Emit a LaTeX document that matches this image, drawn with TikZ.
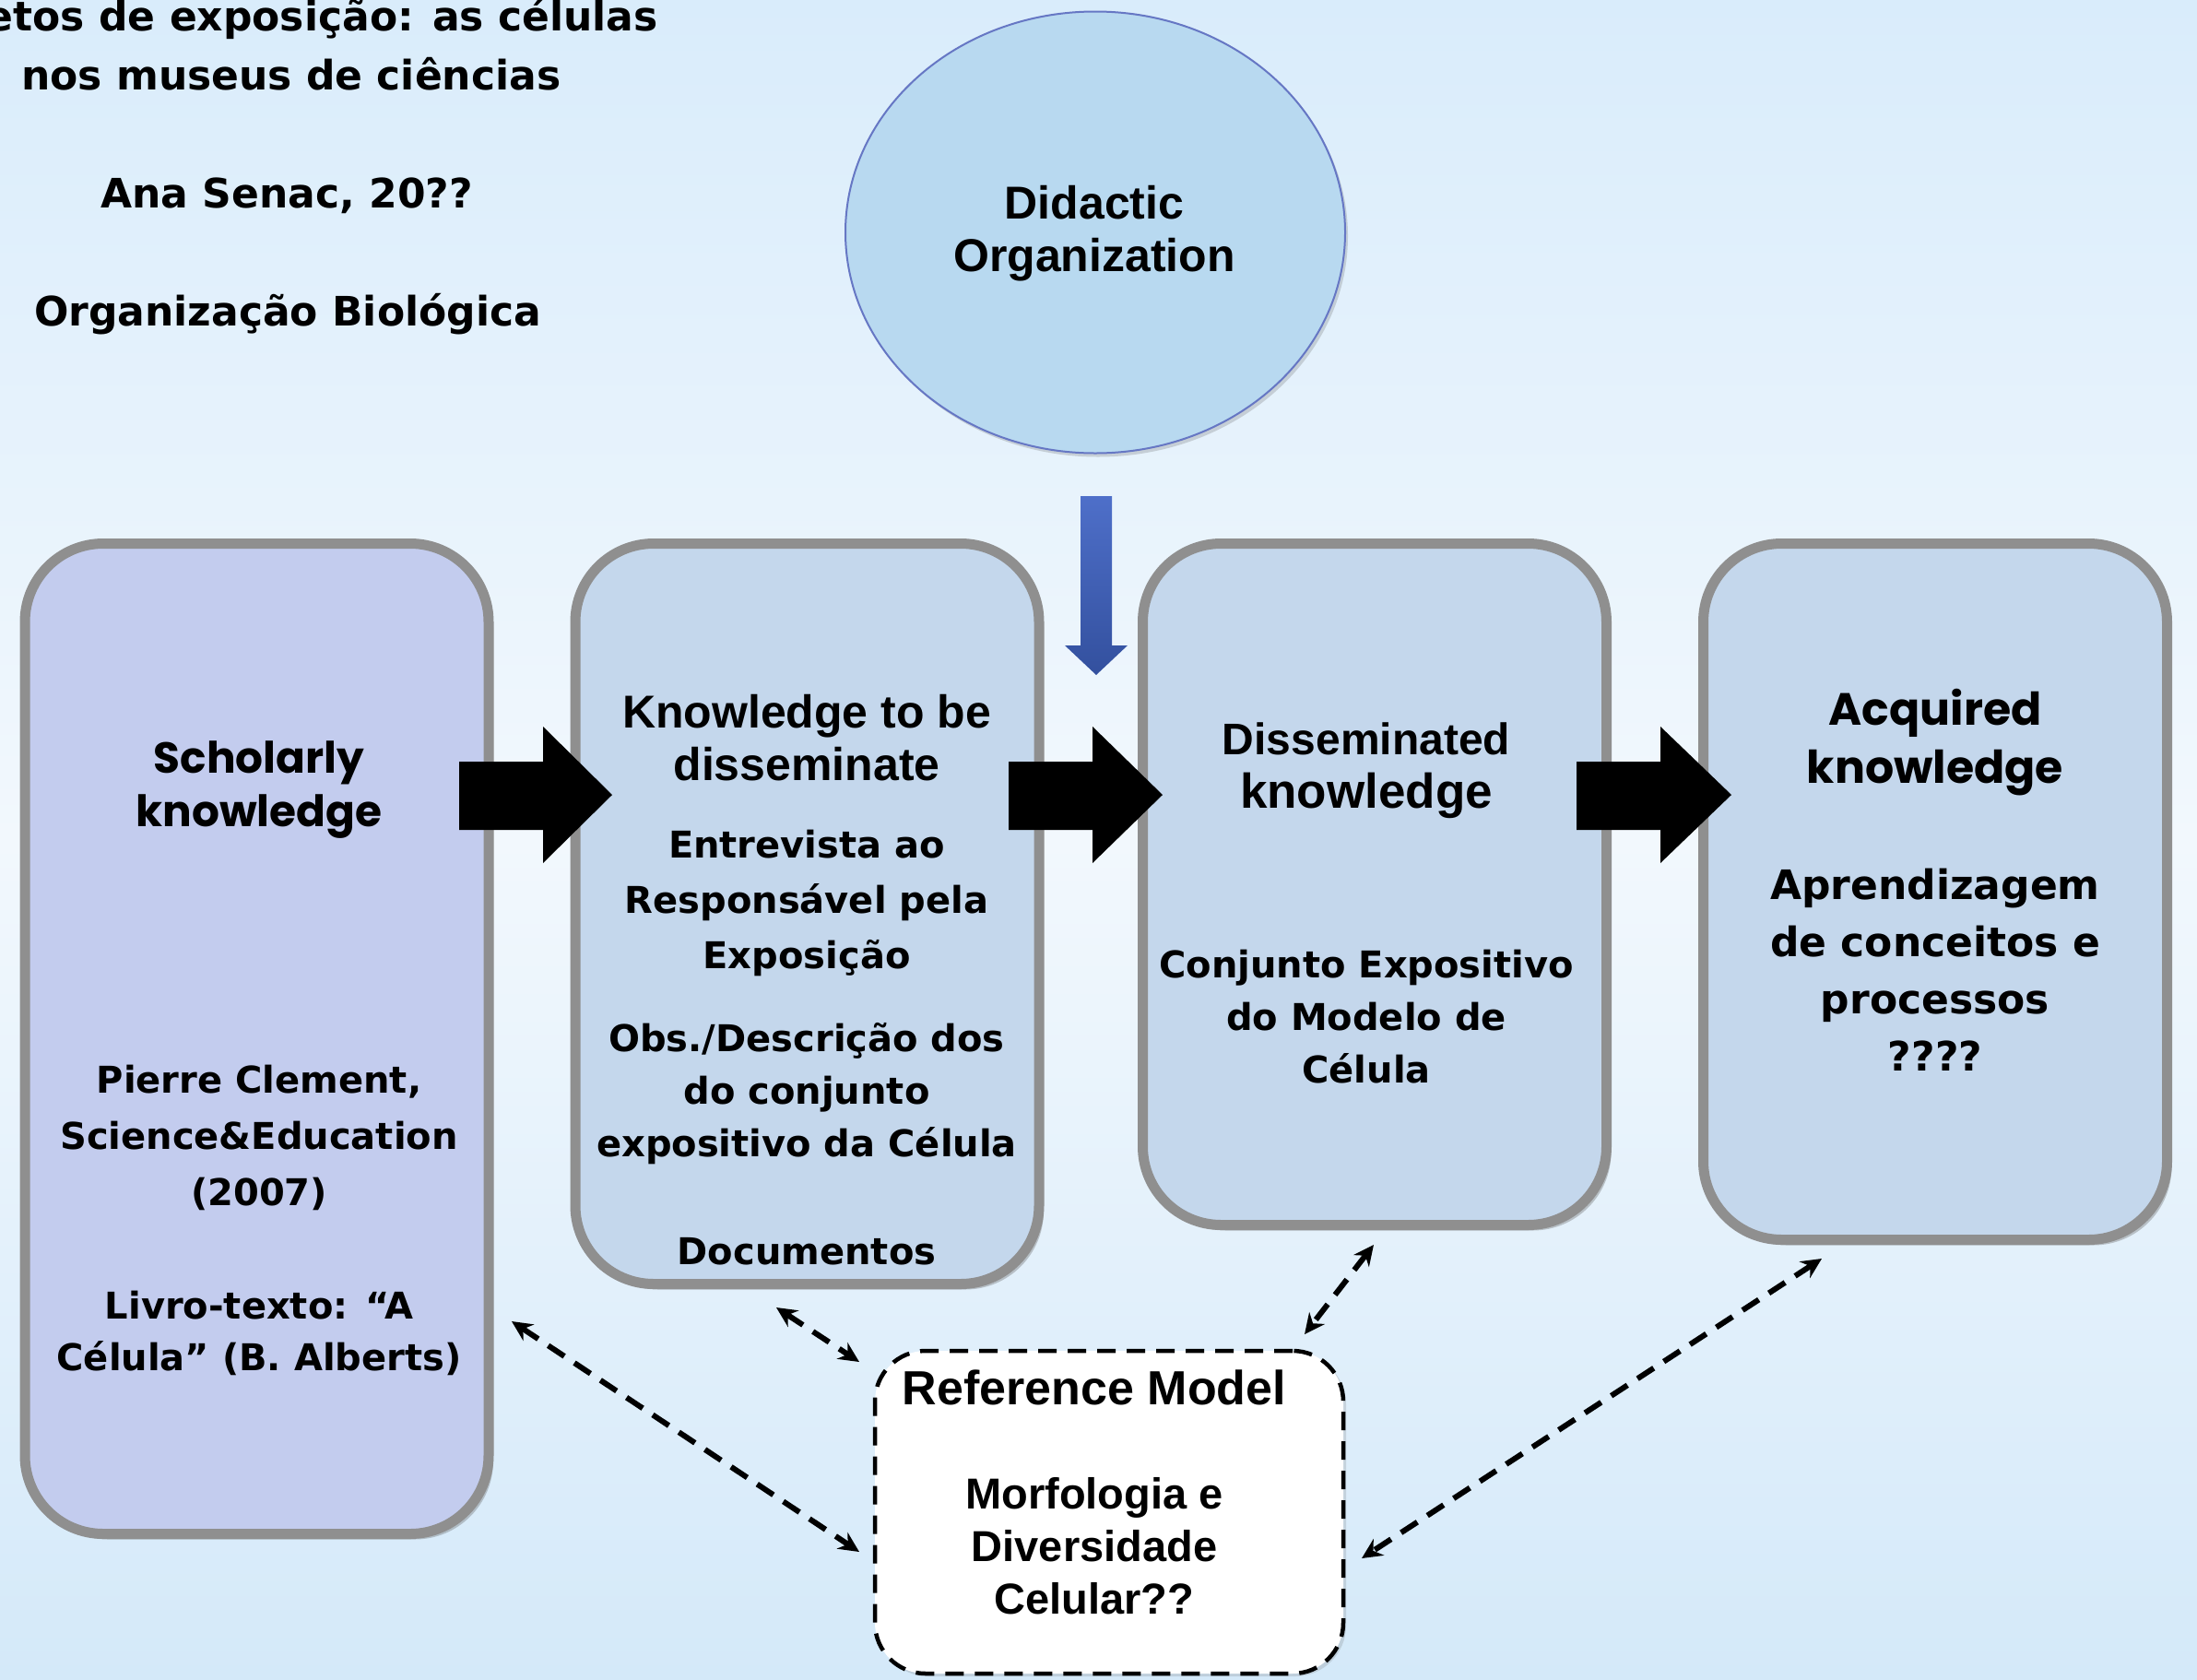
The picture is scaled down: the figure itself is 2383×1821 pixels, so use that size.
\documentclass[tikz,border=0pt]{standalone}
\usepackage{fontspec}
\usetikzlibrary{arrows.meta,shadows,shapes.geometric}
\newfontfamily\comicf{DejaVu Sans}
\newfontfamily\arialf{Liberation Sans}
\newfontfamily\gothicf{Poppins}
\definecolor{bgtop}{HTML}{D9ECFB}
\definecolor{bgmid}{HTML}{F2F8FD}
\definecolor{bgbot}{HTML}{D4E9F9}
\definecolor{boxa}{HTML}{C3CCEE}
\definecolor{boxb}{HTML}{C4D7EC}
\definecolor{boxline}{HTML}{8F8F8F}
\definecolor{ellfill}{HTML}{B8D9F0}
\definecolor{ellline}{HTML}{6677C4}
\definecolor{bluetop}{HTML}{4E6FC9}
\definecolor{bluebot}{HTML}{33509E}
\tikzset{
  stagebox/.style={draw=boxline, line width=11pt, rounded corners=85pt, inner sep=0pt,
    drop shadow={shadow xshift=5pt, shadow yshift=-6pt, opacity=0.35, fill=black!60}},
  comic/.style={font=\comicf\bfseries\fontsize{40}{58}\selectfont, align=center, inner sep=0pt},
  comicbig/.style={font=\comicf\bfseries\fontsize{44}{62}\selectfont, align=center, inner sep=0pt},
  arialt/.style={font=\arialf\bfseries\fontsize{50}{57}\selectfont, align=center, inner sep=0pt},
  gothic/.style={font=\gothicf\bfseries\fontsize{47}{58}\selectfont, align=center, inner sep=0pt},
  titlet/.style={font=\comicf\bfseries\fontsize{44}{58}\selectfont, inner sep=0pt},
  bigarrow/.style={fill=black},
  dasharrow/.style={line width=6pt, dash pattern=on 21pt off 13pt, {Stealth[length=22pt,width=21pt]}-{Stealth[length=22pt,width=21pt]}}
}
\begin{document}
\begin{tikzpicture}[x=1pt,y=-1pt]
\useasboundingbox (0,0) rectangle (2383,1821);
\shade[top color=bgtop, bottom color=bgbot, middle color=bgmid] (0,0) rectangle (2383,1821);

% title texts
\node[titlet, anchor=base east] (t1) at (714,33) {etos de exposição: as células};
\node[titlet, anchor=base west] (t2) at (23,97) {nos museus de ciências};
\node[titlet, anchor=base] (t3) at (311,225) {Ana Senac, 20??};
\node[titlet, anchor=base] (t4) at (312,353) {Organização Biológica};

% didactic organization
\node[ellipse, draw=ellline, line width=2pt, fill=ellfill, minimum width=542pt, minimum height=479pt, inner sep=0pt,
  drop shadow={shadow xshift=3pt, shadow yshift=-4pt, opacity=0.25, fill=black!60}] (ell) at (1188,252) {};
\node[arialt] (ellt) at (1187,253) {Didactic\\Organization};

% blue arrow
\shade[top color=bluetop, bottom color=bluebot] (1172,538) -- (1206,538) -- (1206,700) -- (1223,700) -- (1189,732) -- (1155,700) -- (1172,700) -- cycle;

% stage boxes
\node[stagebox, fill=boxa, minimum width=503pt, minimum height=1074pt] (b1) at (278.5,1126.5) {};
\node[stagebox, fill=boxb, minimum width=503pt, minimum height=803pt] (b2) at (875.5,991) {};
\node[stagebox, fill=boxb, minimum width=503pt, minimum height=739pt] (b3) at (1491,959) {};
\node[stagebox, fill=boxb, minimum width=503pt, minimum height=755pt] (b4) at (2099,967) {};

% box 1 texts
\node[gothic] (b1a) at (281,857) {Scholarly\\knowledge};
\node[comic, font=\comicf\bfseries\fontsize{40}{61}\selectfont] (b1b) at (281,1234) {Pierre Clement,\\Science\&Education\\(2007)};
\node[comic, font=\comicf\bfseries\fontsize{40}{56}\selectfont] (b1c) at (281,1446) {Livro-texto: “A\\Célula” (B. Alberts)};

% box 2 texts
\node[arialt] (b2a) at (875,800) {Knowledge to be\\disseminate};
\node[comic, font=\comicf\bfseries\fontsize{40}{60}\selectfont] (b2b) at (875,979) {Entrevista ao\\Responsável pela\\Exposição};
\node[comic, font=\comicf\bfseries\fontsize{40}{57}\selectfont] (b2c) at (875,1186) {Obs./Descrição dos\\do conjunto\\expositivo da Célula};
\node[comic] (b2d) at (875,1357) {Documentos};

% box 3 texts
\node[arialt, font=\arialf\bfseries\fontsize{48}{57}\selectfont] (b3a) at (1482,801) {Disseminated};
\node[arialt, font=\arialf\bfseries\fontsize{53}{57}\selectfont] (b3b) at (1482,863) {knowledge};
\node[comic, font=\comicf\bfseries\fontsize{40}{57}\selectfont] (b3c) at (1482,1103) {Conjunto Expositivo\\do Modelo de\\Célula};

% box 4 texts
\node[gothic, font=\gothicf\bfseries\fontsize{49}{63}\selectfont] (b4a) at (2099,805) {Acquired\\knowledge};
\node[comicbig] (b4b) at (2099,1052) {Aprendizagem\\de conceitos e\\processos\\????};

% big black arrows
\fill[bigarrow] (498,826) -- (589,826) -- (589,788) -- (664,862) -- (589,936) -- (589,900) -- (498,900) -- cycle;
\fill[bigarrow] (1094,826) -- (1185,826) -- (1185,788) -- (1261,862) -- (1185,936) -- (1185,900) -- (1094,900) -- cycle;
\fill[bigarrow] (1710,826) -- (1801,826) -- (1801,788) -- (1878,862) -- (1801,936) -- (1801,900) -- (1710,900) -- cycle;

% reference model
\node[draw=black, line width=4.5pt, dash pattern=on 20pt off 12pt, rounded corners=55pt, fill=white,
  minimum width=508pt, minimum height=350pt, inner sep=0pt,
  drop shadow={shadow xshift=3pt, shadow yshift=-3pt, opacity=0.2, fill=black!60}] (ref) at (1203,1640) {};
\node[arialt, font=\arialf\bfseries\fontsize{52}{57}\selectfont] (reft) at (1187,1505) {Reference Model};
\node[arialt, font=\arialf\bfseries\fontsize{47}{57}\selectfont] (refb) at (1187,1677) {Morfologia e\\Diversidade\\Celular??};

% dashed connectors
\coordinate (d1a) at (555,1433); \coordinate (d1b) at (932,1683);
\coordinate (d2a) at (842,1418); \coordinate (d2b) at (932,1477);
\coordinate (d3a) at (1490,1350); \coordinate (d3b) at (1415,1447);
\coordinate (d4a) at (1976,1365); \coordinate (d4b) at (1477,1690);
\draw[dasharrow] (d1a) -- (d1b);
\draw[dasharrow] (d2a) -- (d2b);
\draw[dasharrow] (d3a) -- (d3b);
\draw[dasharrow] (d4a) -- (d4b);
\end{tikzpicture}
\end{document}
